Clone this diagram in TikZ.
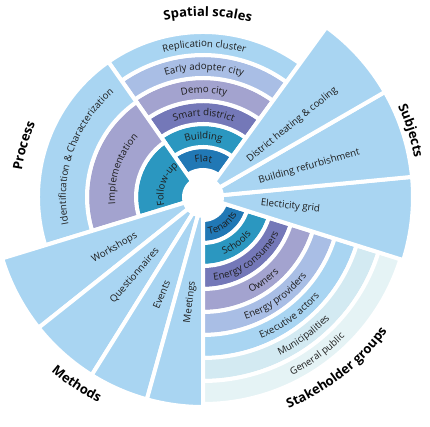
\documentclass[tikz,border=0pt]{standalone}
\usepackage{fontspec}
\setmainfont{Open Sans}
\usetikzlibrary{decorations.text}

\definecolor{cFlat}{HTML}{2178B5}
\definecolor{cBuild}{HTML}{2B97C0}
\definecolor{cSmart}{HTML}{7478B8}
\definecolor{cDemo}{HTML}{A3A3CF}
\definecolor{cEarly}{HTML}{A9BEE5}
\definecolor{cLight}{HTML}{A9D5F2}
\definecolor{cMuni}{HTML}{D3EAF2}
\definecolor{cPublic}{HTML}{E5F3F5}
\definecolor{txt}{HTML}{1E1E1E}

\newcommand{\lblfont}{\fontsize{9.7}{11}\selectfont\color{txt}}
\newcommand{\ttlfont}{\fontsize{13}{15}\selectfont\bfseries\color{black}}

% ring piece: start angle, end angle, inner radius, outer radius, colour
\newcommand{\ringseg}[5]{%
  \filldraw[seg, fill=#5] (#1:#3pt) arc[start angle=#1, end angle=#2, radius=#3pt]
    -- (#2:#4pt) arc[start angle=#2, end angle=#1, radius=#4pt] -- cycle;}
% text on a clockwise arc: text, mid angle, radius, font
\newcommand{\cwtext}[4]{%
  \path[decorate, decoration={text along path, text align=center, text={|#4|#1}}]
    (#2+42:#3pt) arc[start angle=#2+42, end angle=#2-42, radius=#3pt];}
% text on a counter-clockwise arc
\newcommand{\ccwtext}[4]{%
  \path[decorate, decoration={text along path, text align=center, text={|#4|#1}}]
    (#2-42:#3pt) arc[start angle=#2-42, end angle=#2+42, radius=#3pt];}

\begin{document}
\begin{tikzpicture}[
    seg/.style={draw=white, line width=4pt},
    lbl/.style={font=\lblfont, inner sep=1pt}
]
\useasboundingbox (0,0) rectangle (430pt,427pt);
\begin{scope}[shift={(203pt,230pt)}]
    % Spatial scales
    \ringseg{54}{125}{27}{50}{cFlat}
    \ringseg{54}{125}{50}{73}{cBuild}
    \ringseg{54}{125}{73}{96}{cSmart}
    \ringseg{54}{125}{96}{119}{cDemo}
    \ringseg{54}{125}{119}{142}{cEarly}
    \ringseg{54}{125}{142}{165}{cLight}

    % Process
    \ringseg{125}{197}{19}{67}{cBuild}
    \ringseg{125}{197}{67}{116}{cDemo}
    \ringseg{125}{197}{116}{165}{cLight}

    % Methods
    \ringseg{197}{218.5}{19}{210}{cLight}
    \ringseg{218.5}{238}{19}{210}{cLight}
    \ringseg{238}{254.5}{19}{210}{cLight}
    \ringseg{254.5}{270}{19}{210}{cLight}

    % Stakeholder groups
    \ringseg{270}{342.5}{23}{46}{cFlat}
    \ringseg{270}{342.5}{46}{69}{cBuild}
    \ringseg{270}{342.5}{69}{92}{cSmart}
    \ringseg{270}{342.5}{92}{115}{cDemo}
    \ringseg{270}{342.5}{115}{138}{cEarly}
    \ringseg{270}{342.5}{138}{161}{cLight}
    \ringseg{270}{342.5}{161}{184}{cMuni}
    \ringseg{270}{342.5}{184}{207}{cPublic}

    % Subjects
    \ringseg{-17.5}{5.5}{19}{210}{cLight}
    \ringseg{5.5}{30}{19}{210}{cLight}
    \ringseg{30}{54}{19}{210}{cLight}

    % ring labels
    \cwtext{Flat}{89.5}{35}{\lblfont}
    \cwtext{Building}{89.5}{58}{\lblfont}
    \cwtext{Smart district}{89.5}{81}{\lblfont}
    \cwtext{Demo city}{89.5}{104}{\lblfont}
    \cwtext{Early adopter city}{89.5}{127}{\lblfont}
    \cwtext{Replication cluster}{89.5}{150}{\lblfont}

    \cwtext{Follow-up}{161}{39.5}{\lblfont}
    \cwtext{Implementation}{161}{88}{\lblfont}
    \cwtext{Identification {\&} Characterization}{161}{137}{\lblfont}

    \ccwtext{Tenants}{306}{38}{\lblfont}
    \ccwtext{Schools}{306}{61}{\lblfont}
    \ccwtext{Energy consumers}{306}{84}{\lblfont}
    \ccwtext{Owners}{306}{107}{\lblfont}
    \ccwtext{Energy providers}{306}{130}{\lblfont}
    \ccwtext{Executive actors}{306}{153}{\lblfont}
    \ccwtext{Municipalities}{306}{176}{\lblfont}
    \ccwtext{General public}{306}{199}{\lblfont}

    % wedge labels
    \node[lbl, rotate=30] (workshops) at (210:102pt) {Workshops};
    \node[lbl, rotate=49] (questionnaires) at (229:104pt) {Questionnaires};
    \node[lbl, rotate=67] (events) at (247:106pt) {Events};
    \node[lbl, rotate=83] (meetings) at (263:106pt) {Meetings};

    \node[lbl, anchor=west, rotate=39] (heating) at (39:57pt) {District heating \& cooling};
    \node[lbl, anchor=west, rotate=16] (refurb) at (16:57pt) {Building refurbishment};
    \node[lbl, anchor=west, rotate=-6] (grid) at (-6:57pt) {Electicity grid};

    % group titles
    \cwtext{Spatial scales}{88.5}{181}{\ttlfont}
    \cwtext{Process}{164}{183}{\ttlfont}
    \cwtext{Subjects}{17.7}{215}{\ttlfont}
    \ccwtext{Methods}{236}{231}{\ttlfont}
    \ccwtext{Stakeholder groups}{308}{228}{\ttlfont}
\end{scope}
\end{tikzpicture}
\end{document}
